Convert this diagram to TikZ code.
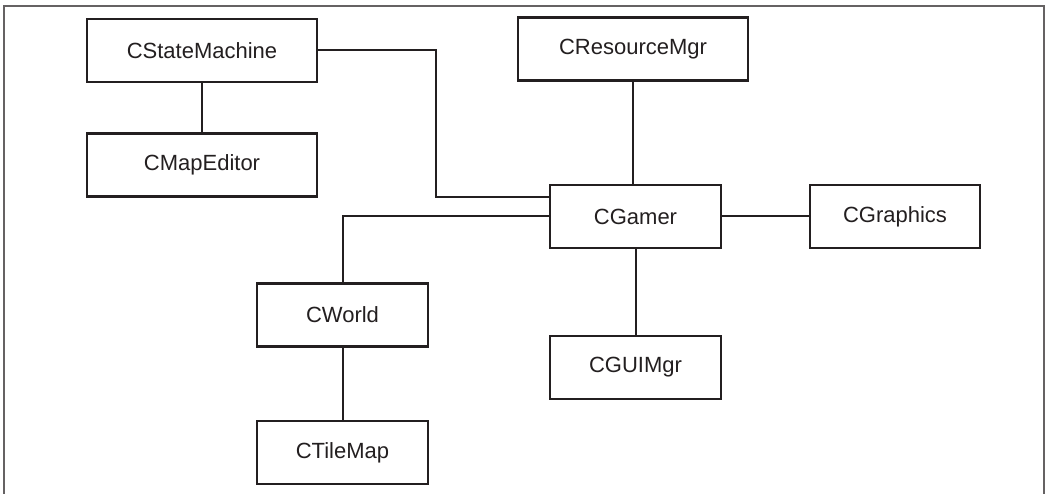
\documentclass[tikz,border=0pt]{standalone}
\usepackage{fontspec}
\setmainfont{Liberation Sans}
\definecolor{ink}{HTML}{231F20}
\begin{document}
\begin{tikzpicture}[x=1pt,y=-1pt,
  cls/.style={draw=ink,line width=2.6pt,fill=white,rectangle,inner sep=0pt,
    minimum height=63pt,text=ink,font=\fontsize{22}{26}\selectfont},
  wide/.style={cls,minimum width=230pt},
  narrow/.style={cls,minimum width=171pt},
  link/.style={draw=ink,line width=2pt},
  frame/.style={draw=ink!70,line width=2pt}]
\useasboundingbox (0,0) rectangle (1045,494);
\draw[frame] (4,494) -- (4,6) -- (1044,6) -- (1044,494);
\node[wide] (sm) at (202,50.5) {CStateMachine};
\node[wide] (me) at (202,165) {CMapEditor};
\node[wide] (rm) at (633,49) {CResourceMgr};
\node[narrow] (gm) at (635.5,216.5) {CGamer};
\node[narrow,minimum width=170pt] (gr) at (895,216.5) {CGraphics};
\node[narrow] (gu) at (635.5,367.5) {CGUIMgr};
\node[narrow] (wo) at (342.5,315) {CWorld};
\node[narrow] (tm) at (342.5,452.5) {CTileMap};
\coordinate (k1) at (436,197);
\draw[link] (sm.south) -- (me.north);
\draw[link] (sm.east) -| (k1) -- (k1 -| gm.west);
\draw[link] (rm.south) -- (rm.south |- gm.north);
\draw[link] (gm.west) -| (wo.north);
\draw[link] (gm.east) -- (gr.west);
\draw[link] (gm.south) -- (gm.south |- gu.north);
\draw[link] (wo.south) -- (tm.north);
\end{tikzpicture}
\end{document}
